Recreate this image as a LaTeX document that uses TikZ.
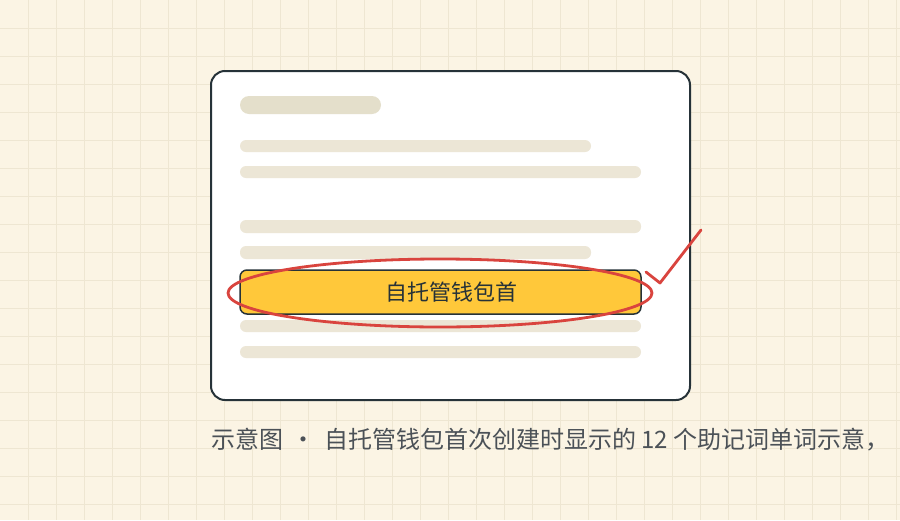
\documentclass[tikz,border=0pt]{standalone}
\usepackage{fontspec}
\setmainfont{Noto Sans CJK SC}
\usetikzlibrary{shapes.geometric}

\definecolor{paper}{HTML}{FBF4E4}
\definecolor{gridline}{HTML}{EEE6D2}
\definecolor{barfill}{HTML}{ECE6D6}
\definecolor{titlefill}{HTML}{E4DFCB}
\definecolor{inkdark}{HTML}{263238}
\definecolor{seedyellow}{HTML}{FFC83A}
\definecolor{markred}{HTML}{D9443E}
\definecolor{captiongray}{HTML}{4B5157}

\begin{document}
\begin{tikzpicture}[x=0.5pt,y=-0.5pt,
    bar/.style = {fill=barfill, rounded corners=3pt},
    card/.style = {draw=inkdark, line width=1pt, fill=white, rounded corners=7pt},
    seed/.style = {draw=inkdark, line width=0.75pt, fill=seedyellow, rounded corners=3.5pt},
    redmark/.style = {draw=markred, line width=1.4pt, line cap=round, line join=round}]
        % paper and grid
        \fill[paper] (0,0) rectangle (900,520);
        \useasboundingbox (0,0) rectangle (900,520);
        \foreach \gx in {28,56,...,900} \draw[gridline, line width=0.5pt] (\gx,0) -- (\gx,520);
        \foreach \gy in {28,56,...,520} \draw[gridline, line width=0.5pt] (0,\gy) -- (900,\gy);
        % card with placeholder lines
        \draw[card] (211,71) rectangle (690,400);
        \fill[titlefill, rounded corners=4.5pt] (240,96) rectangle (381,114);
        \fill[bar] (240,140) rectangle (591,152);
        \fill[bar] (240,166) rectangle (641,178);
        \fill[bar] (240,220) rectangle (641,233);
        \fill[bar] (240,246) rectangle (591,259);
        \fill[bar] (240,320) rectangle (641,332);
        \fill[bar] (240,346) rectangle (641,358);
        % highlighted row
        \draw[seed] (240,270) rectangle (641,314);
        \node[text=inkdark, font=\fontsize{11pt}{13pt}\selectfont] (label) at (451,292) {自托管钱包首};
        \node[ellipse, redmark, minimum width=212pt, minimum height=34pt, inner sep=0pt] (ring) at (440,293) {};
        \draw[redmark] (646,272) -- (660,283) -- (701,230);
        % caption
        \node[anchor=west, text=captiongray, inner sep=0pt, font=\fontsize{12pt}{14pt}\selectfont] (caption) at (211,440) {示意图\hspace{0.35em}·\hspace{0.35em}自托管钱包首次创建时显示的 12 个助记词单词示意，};
\end{tikzpicture}
\end{document}
